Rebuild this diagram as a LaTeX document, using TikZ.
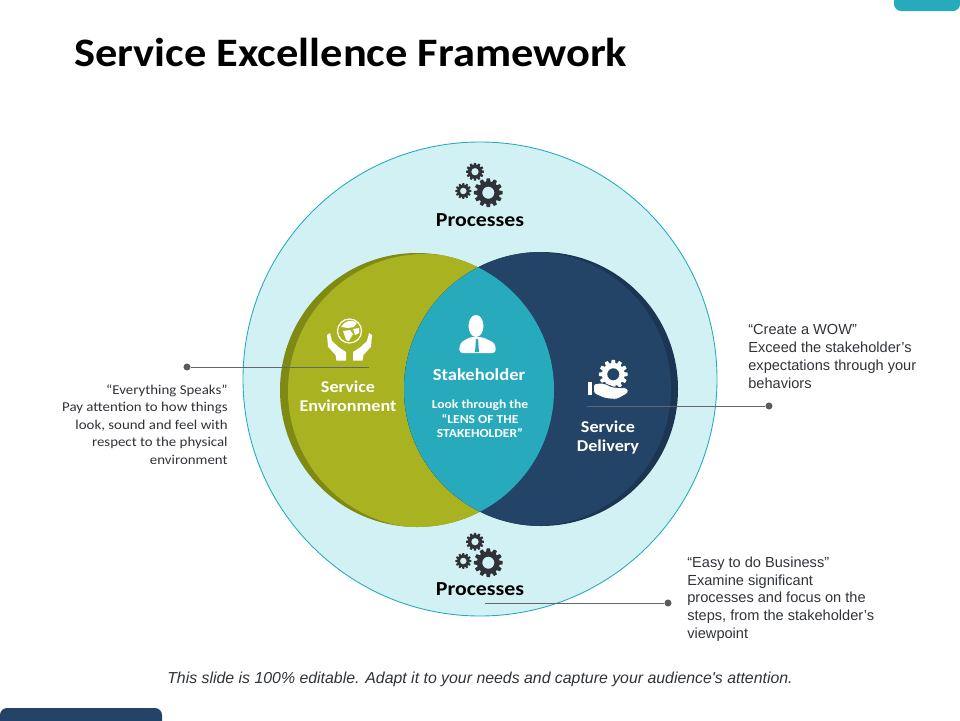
\documentclass[tikz,border=0pt]{standalone}
\usepackage{fontspec}
\setmainfont[FakeStretch=1.1]{Carlito}
\newfontfamily\arialfont{Liberation Sans}
\usetikzlibrary{calc}
\definecolor{tealc}{HTML}{28AABD}
\definecolor{navyc}{HTML}{234466}
\definecolor{navyd}{HTML}{1B3553}
\definecolor{olivec}{HTML}{A9B220}
\definecolor{olived}{HTML}{7F8A14}
\definecolor{palec}{HTML}{D2F1F4}
\definecolor{inkc}{HTML}{2F3338}
\tikzset{
  heading/.style={
      anchor=west,
      inner sep=0pt,
      font=\bfseries\fontsize{23}{26}\selectfont,
      text=black
  },
  label/.style={
      align=center,
      inner sep=0pt,
      font=\bfseries\fontsize{9.4}{11}\selectfont,
      text=white
  },
  group/.style={
      label,
      text=black,
      font=\bfseries\fontsize{11.3}{12}\selectfont
  },
  noteleft/.style={
      align=right,
      anchor=east,
      inner sep=0pt,
      text=inkc,
      font=\fontsize{7.7}{10}\selectfont
  },
  noteright/.style={
      align=left,
      anchor=west,
      inner sep=0pt,
      text=inkc,
      font=\arialfont\fontsize{8.3}{10.1}\selectfont
  },
  dot/.style={
      circle,
      fill=inkc!80,
      minimum size=4pt,
      inner sep=0pt
  },
  leader/.style={
      draw=inkc!75,
      line width=0.4pt
  },
  cog/.pic={
      \path[pic actions,even odd rule] (-11:7.8)
          \foreach \a in {0,30,...,330} {
              -- (\a-11:7.8) -- (\a-6.5:10) -- (\a+6.5:10) -- (\a+11:7.8)
          } -- cycle
          (0,0) circle[radius=4.2];
  },
  cogs/.pic={
      \pic[fill=inkc,scale=1.45] at (8.3,12.7) {cog};
      \pic[fill=inkc,scale=0.9] at (-5,-8.3) {cog};
      \pic[fill=inkc,scale=0.8] at (-16.7,11) {cog};
  }
}

\begin{document}
\begin{tikzpicture}[x=0.02cm,y=-0.02cm]
    \useasboundingbox (0,0) rectangle (960,720);
    % corner tabs
    \fill[tealc,rounded corners=4pt] (894,-12) rectangle (960,11);
    \fill[navyc,rounded corners=4pt] (0,708) rectangle (162,735);
    \node[heading] (title) at (74,52) {Service Excellence Framework};
    % circles
    \filldraw[fill=palec,draw=tealc,line width=0.5pt] (480,379) circle[radius=237];
    \fill[olived] (417,390) circle[radius=137];
    \begin{scope}
        \clip (417,390) circle[radius=137];
        \fill[olivec] (425,391) circle[radius=137];
    \end{scope}
    \fill[navyd] (541,389) circle[radius=137];
    \begin{scope}
        \clip (541,389) circle[radius=137];
        \fill[navyc] (534,389) circle[radius=137];
        \fill[tealc] (417,390) circle[radius=137];
    \end{scope}
    % gears
    \pic at (480,180) {cogs};
    \pic at (480,550) {cogs};
    % globe and hands
    \draw[white,line width=0.7pt] (349.5,331) circle[radius=12];
    \fill[white] (341,327) .. controls (345,320) and (352,319) .. (357,323) -- (354,327) -- (348,328) -- cycle;
    \fill[white] (343,331) -- (350,330) -- (353,334) -- (349,341) -- (346,340) -- cycle;
    \fill[white] (353,329) -- (359,328) -- (359,333) -- (355,335) -- cycle;
    \foreach \s in {1,-1} {
        \fill[white,shift={(349.5,0)},xscale=\s]
            (-22.5,335) -- (-19.5,333) -- (-17.5,341) -- (-11,347) -- (-3.5,352)
            -- (-3.5,360.7) -- (-13,360.7) -- (-14,355) -- (-21.5,346.7) -- cycle;
    }
    % person
    \fill[white] (476,326) ellipse[x radius=7.5,y radius=11];
    \fill[white,rounded corners=2pt] (459,353) -- (460,343) -- (470,337) -- (482,337) -- (495,343) -- (496,353) -- cycle;
    \fill[tealc] (476,339) -- (478,339) -- (479,352) -- (475,352) -- cycle;
    % hand with gear
    \pic[fill=white,scale=1.45] at (613.3,374.3) {cog};
    \fill[white] (587.7,382.3) rectangle (592,395);
    \filldraw[white,draw=navyc,line width=0.5pt,rounded corners=1.5pt] (593.5,383.5) -- (604,383) -- (612,387) -- (628,388) -- (628.5,393) -- (617,399.5) -- (605,398.5) -- (593.5,393.5) -- cycle;
    % texts
    \node[group] (procTop) at (480,220) {Processes};
    \node[group] (procBot) at (480,589) {Processes};
    \node[label] (envir) at (348,396) {Service\\Environment};
    \node[label] (deliv) at (608,437.5) {Service\\Delivery};
    \node[label,font=\bfseries\fontsize{9.6}{11}\selectfont] (stake) at (479,375) {Stakeholder};
    \node[label,font=\bfseries\fontsize{7}{8.2}\selectfont] (lens) at (480,419) {Look through the\\“LENS OF THE\\STAKEHOLDER”};
    \node[noteleft] (speaks) at (228,424.5) {“Everything Speaks”\\Pay attention to how things\\look, sound and feel with\\respect to the physical\\environment};
    \node[noteright] (wow) at (748,356.5) {“Create a WOW”\\Exceed the stakeholder’s\\expectations through your\\behaviors};
    \node[noteright] (easy) at (687,599) {“Easy to do Business”\\Examine significant\\processes and focus on the\\steps, from the stakeholder’s\\viewpoint};
    \node[anchor=center,inner sep=0pt,text=inkc,font=\arialfont\itshape\fontsize{9.03}{10}\selectfont] (foot) at (480,679) {This slide is 100\% editable. Adapt it to your needs and capture your audience's attention.};
    % leader lines
    \node[dot] (dotEnv) at (187,367) {};
    \node[dot] (dotDel) at (769,406) {};
    \node[dot] (dotBus) at (668,603) {};
    \coordinate (endEnv) at (369,367);
    \coordinate (endDel) at (587,406);
    \coordinate (endBus) at (485,603);
    \draw[leader] (dotEnv) -- (endEnv);
    \draw[leader] (dotDel) -- (endDel);
    \draw[leader] (dotBus) -- (endBus);
\end{tikzpicture}
\end{document}
